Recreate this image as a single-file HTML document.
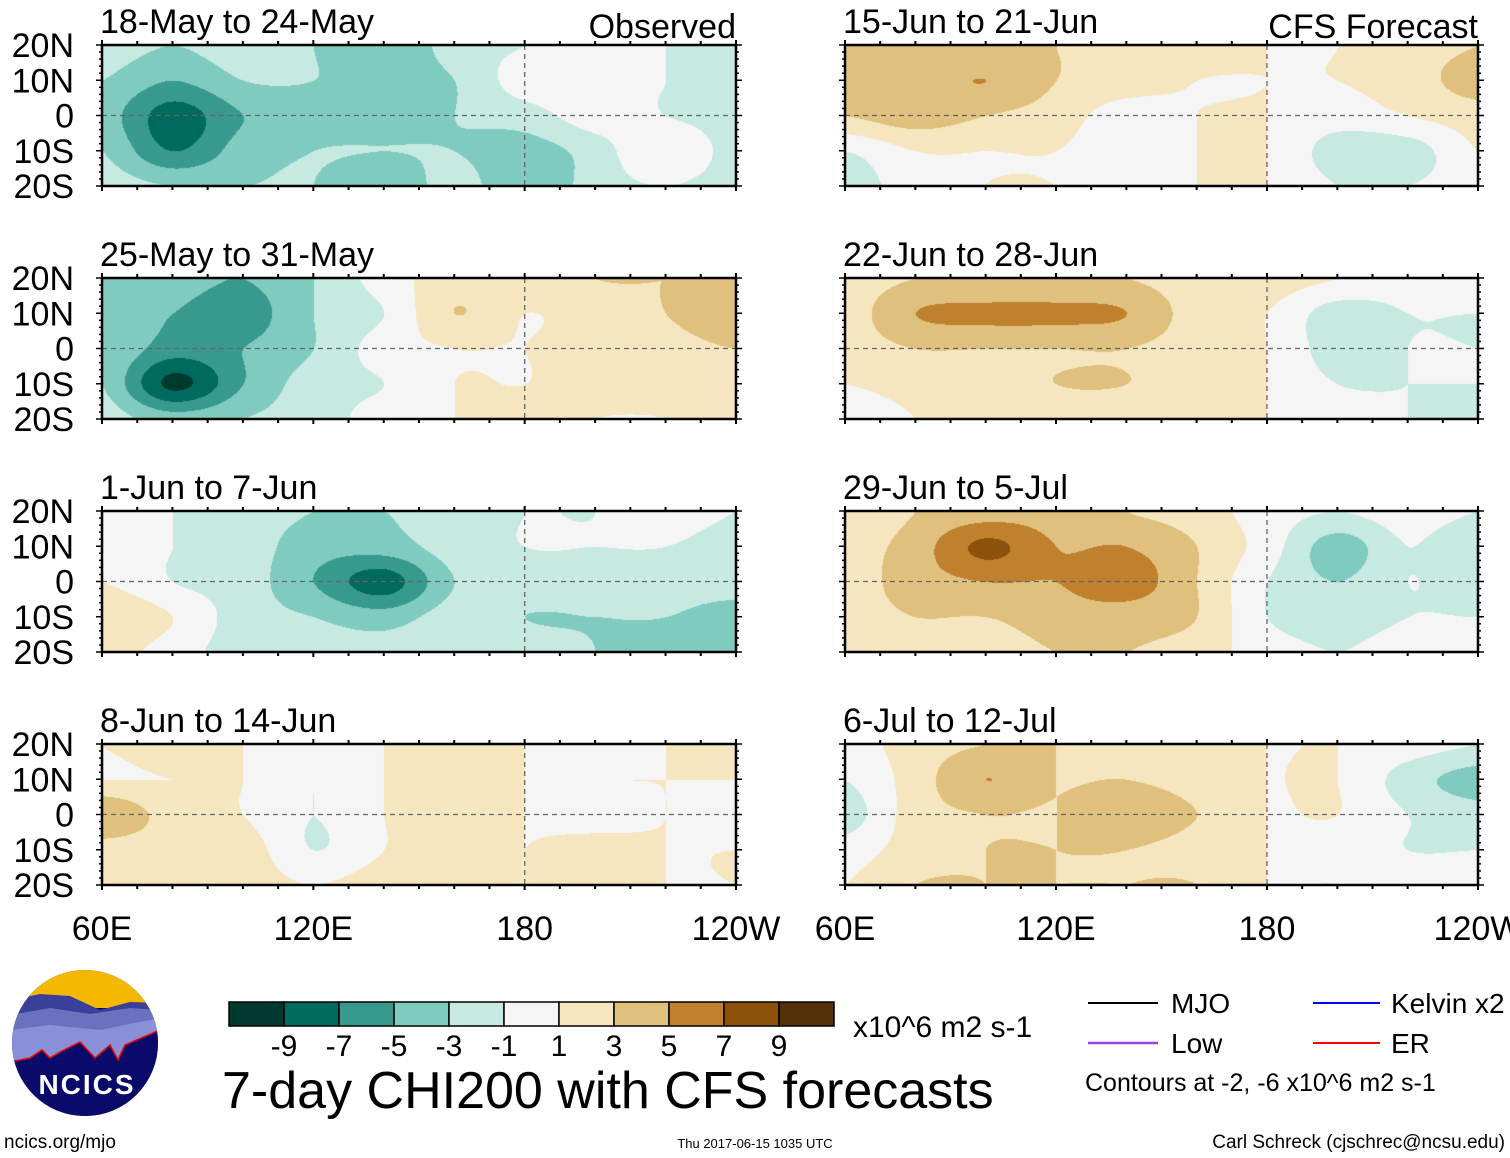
<!DOCTYPE html>
<html><head><meta charset="utf-8">
<style>
html,body{margin:0;padding:0;background:#fff;}
body{width:1510px;height:1158px;position:relative;overflow:hidden;font-family:"Liberation Sans",Arial,sans-serif;}
canvas{position:absolute;left:0;top:0;}
</style></head>
<body>
<canvas id="c" width="1510" height="1158"></canvas>
<svg id="s" width="1510" height="1158" style="position:absolute;left:0;top:0"></svg>
<script>
// ---- data ----
const lons = [60,80,100,120,140,160,180,200,220,240];
const lats = [20,10,0,-10,-20];
const panelTitles = ["18-May to 24-May","25-May to 31-May","1-Jun to 7-Jun","8-Jun to 14-Jun","15-Jun to 21-Jun","22-Jun to 28-Jun","29-Jun to 5-Jul","6-Jul to 12-Jul"];
const levels = [-9,-7,-5,-3,-1,1,3,5,7,9];
const levelColors = ["#00392e","#006a5e","#389a8f","#7fcbbf","#c6e9e1","#f5f5f5","#f5e6c0","#dfc07d","#bf812d","#8c510a","#543005"];
const xTickLabels = ["60E","120E","180","120W"];
const xTickLons = [60,120,180,240];
const yTickLabels = ["20N","10N","0","10S","20S"];
const yTickLats = [20,10,0,-10,-20];
const p1 = [[-2,-3,-2,-3,-5,-2,-1,0,-1,-2],[-3,-5,-3,-3,-4,-3,0,0,-1,-2],[-4,-8,-5,-4,-4,-3,-2,0,-1,-2],[-3,-7,-4,-3,-3,-3,-4,-2,1,-2],[-2,-3,-3,-3,-5,-2,-5,-2,-1,-2]];
const p2 = [[-3,-4,-5,-3,0,2,2,3,3,3],[-3,-5,-6,-3,-1,3,1,2,3,5],[-3,-6,-5,-3,0,1,1,2,2,3],[-3,-9.5,-5,-2,-1,1,1,2,2,1],[-2,-4,-3,-2,0,1,2,1,1,2]];
const p3 = [[0,-1,-2,-3,-3,-2,-1,-1,0,-1],[0,-1,-2,-4,-4,-2,-1,-1,-1,-2],[1,-1,-2,-5,-8,-3,-2,-2,-2,-2],[3,1,-2,-3,-4,-2,-3,-3,-3,-4],[2,0,-2,-2,-2,-1,-2,-3,-4,-4]];
const p4 = [[1,2,1,-1,1,2,1,0,1,1],[1,1,1,-1,1,2,1,1,1,1],[5,2,1,-1,1,2,1,0,1,0],[2,2,2,-1,1,2,1,2,1,1],[2,2,2,1,2,2,1,2,1,1]];
const p5 = [[3,3,3,3,2,2,1,1,2,3],[3,4,5,3,2,1,1,1,2,4],[3,4,3,2,0,1,1,0,1,2],[-1,1,1,1,0,1,1,-2,-2,1],[-2,0,1,1,1,1,1,-1,-1,0]];
const p6 = [[2,3,3,3,3,2,2,1,0,1],[2,5,5.5,5.5,5,2,1,-2,-1,-1],[2,3,3,3,3,2,1,-2,-1,-1],[1,2,2,3,3,2,1,-1,-1,-1],[-1,1,2,2,2,2,1,0,-1,-1]];
const p7 = [[1,3,4,4,3,2,0,-1,0,-1],[2,4,7.5,5,5,3,0,-4,-1,-3],[2,4,5,5,6,3,-1,-3,-1,-2],[2,3,3,4,4,3,-1,-2,-1,-1],[1,2,2,3,3,2,0,-1,0,0]];
const p8 = [[0,2,3,3,2,2,1,1,0,-1],[-1,2,5,3,3,2,1,1,-2,-4],[-2,2,3,3,5,3,1,1,-1,-2],[0,2,3,3,3,2,1,0,-1,-1],[1,3,3,3,3,3,1,1,0,0]];
const panelData = [p1,p2,p3,p4,p5,p6,p7,p8];

// ---- layout ----
const colX = [[102,736],[845,1478]];
const rowY = [45,278,511,744];
const PH = 141;
function panelBox(i){const col=i<4?0:1,row=i%4;return {x0:colX[col][0],x1:colX[col][1],y0:rowY[row],y1:rowY[row]+PH};}
function lonToX(b,lon){return b.x0+(lon-60)/180*(b.x1-b.x0);}
function latToY(b,lat){return b.y0+(20-lat)/40*(b.y1-b.y0);}
function hex(h){return [parseInt(h.slice(1,3),16),parseInt(h.slice(3,5),16),parseInt(h.slice(5,7),16)];}
const rgb = levelColors.map(hex);
function colorIdx(v){v=Math.round(v*1e5)/1e5;let k=0;while(k<levels.length&&v>levels[k])k++;return k;}
function cr(p0,p1,p2,p3,t){return 0.5*((2*p1)+(-p0+p2)*t+(2*p0-5*p1+4*p2-p3)*t*t+(-p0+3*p1-3*p2+p3)*t*t*t);}
function gv(g,j,i){j=Math.max(0,Math.min(lats.length-1,j));i=Math.max(0,Math.min(lons.length-1,i));return g[j][i];}
function sample(g,lon,lat){
  let fi=(lon-lons[0])/(lons[1]-lons[0]); let fj=(lats[0]-lat)/(lats[0]-lats[1]);
  fi=Math.max(0,Math.min(lons.length-1.0001,fi)); fj=Math.max(0,Math.min(lats.length-1.0001,fj));
  const i=Math.floor(fi),j=Math.floor(fj); const a=fi-i,b=fj-j;
  const r=[];
  for(let dj=-1;dj<=2;dj++){r.push(cr(gv(g,j+dj,i-1),gv(g,j+dj,i),gv(g,j+dj,i+1),gv(g,j+dj,i+2),a));}
  return cr(r[0],r[1],r[2],r[3],b);
}
const ctx=document.getElementById('c').getContext('2d');
const NS="http://www.w3.org/2000/svg";
const svg=document.getElementById('s');
function el(tag,attrs,parent){const e=document.createElementNS(NS,tag);for(const k in attrs)e.setAttribute(k,attrs[k]);(parent||svg).appendChild(e);return e;}
function txt(x,y,s,size,anchor,parent){const t=el('text',{x:x,y:y,'font-size':size,'text-anchor':anchor||'start','font-family':'Liberation Sans, Arial, sans-serif',fill:'#000'},parent);t.textContent=s;return t;}

panelData.forEach((g,i)=>{
  const b=panelBox(i);
  const w=b.x1-b.x0,h=b.y1-b.y0;
  const img=ctx.createImageData(w,h);
  for(let y=0;y<h;y++)for(let x=0;x<w;x++){
    const lon=60+x/w*180, lat=20-y/h*40;
    const c=rgb[colorIdx(sample(g,lon,lat))];
    const o=(y*w+x)*4; img.data[o]=c[0];img.data[o+1]=c[1];img.data[o+2]=c[2];img.data[o+3]=255;
  }
  ctx.putImageData(img,b.x0,b.y0);
  const grp=el('g',{});
  
  
  el('line',{x1:b.x0,x2:b.x1,y1:latToY(b,0),y2:latToY(b,0),stroke:'#666','stroke-width':1.3,'stroke-dasharray':'5,4'},grp);
  el('line',{x1:lonToX(b,180),x2:lonToX(b,180),y1:b.y0,y2:b.y1,stroke:'#666','stroke-width':1.3,'stroke-dasharray':'5,4'},grp);
  for(let lon=60;lon<=240;lon+=10){const x=lonToX(b,lon);const L=(lon%60===0)?5:4;
    el('line',{x1:x,x2:x,y1:b.y0,y2:b.y0-L,stroke:'#000','stroke-width':2},grp);
    el('line',{x1:x,x2:x,y1:b.y1,y2:b.y1+L,stroke:'#000','stroke-width':2},grp);}
  for(let lat=-20;lat<=20;lat+=2){const y=latToY(b,lat);const L=(lat%10===0)?6:3;
    el('line',{x1:b.x0,x2:b.x0-L,y1:y,y2:y,stroke:'#000','stroke-width':1.5},grp);
    el('line',{x1:b.x1,x2:b.x1+L,y1:y,y2:y,stroke:'#000','stroke-width':1.5},grp);}
  el('rect',{x:b.x0,y:b.y0,width:b.x1-b.x0,height:b.y1-b.y0,fill:'none',stroke:'#000','stroke-width':2.5},grp);
  const t=txt(b.x0-2,b.y0-12,panelTitles[i],34,'start',grp);
  
  
  if(i<4){yTickLats.forEach((lat,k)=>{const yl=txt(74,latToY(b,lat)+12,yTickLabels[k],34,'end',grp);
    
    });}
  if(i===3||i===7){xTickLons.forEach((lon,k)=>{const xl=txt(lonToX(b,lon),b.y1+55,xTickLabels[k],34,'middle',grp);
    
    });}
});
const ob=txt(736,38,"Observed",34,'end');


const cf=txt(1478,38,"CFS Forecast",34,'end');



const cb=el('g',{});


const cbX0=229,cbW=55,cbY=1002,cbH=24;
levelColors.forEach((c,k)=>{const r=el('rect',{x:cbX0+k*cbW,y:cbY,width:cbW,height:cbH,fill:c,stroke:'#000','stroke-width':1.5},cb);
  
  });
levels.forEach((v,k)=>{if(v%2!==0){const t=txt(cbX0+(k+1)*cbW,1056,String(v),30,'middle',cb);
  
  }});
</script>
<div style="position:absolute;left:853px;top:1011px;font-size:30px;">x10^6 m2 s-1</div>
<div style="position:absolute;left:222px;top:1061px;font-size:52px;">7-day CHI200 with CFS forecasts</div>
<svg width="1510" height="1158" style="position:absolute;left:0;top:0">
  <g font-family="Liberation Sans, Arial, sans-serif" font-size="28">
    <line x1="1088" x2="1158" y1="1003" y2="1003" stroke="#000" stroke-width="2"/>
    <text x="1171" y="1013">MJO</text>
    <line x1="1313" x2="1380" y1="1003" y2="1003" stroke="#0000ff" stroke-width="2"/>
    <text x="1391" y="1013">Kelvin x2</text>
    <line x1="1088" x2="1158" y1="1043" y2="1043" stroke="#a040e0" stroke-width="2.5"/>
    <text x="1171" y="1053">Low</text>
    <line x1="1313" x2="1380" y1="1043" y2="1043" stroke="#ff0000" stroke-width="2"/>
    <text x="1391" y="1053">ER</text>
    <text x="1085" y="1091" font-size="25">Contours at -2, -6 x10^6 m2 s-1</text>
  </g>
  <g>
    <clipPath id="lc"><circle cx="85" cy="1043" r="73"/></clipPath>
    <g clip-path="url(#lc)">
      <rect x="10" y="968" width="150" height="150" fill="#0a0a6a"/>
      <rect x="10" y="968" width="150" height="40" fill="#f5b800"/>
      <path d="M10 1000 L40 994 L70 996 L100 1010 L130 1002 L160 1003 L160 1060 L10 1060Z" fill="#3a3f9a"/>
      <path d="M10 1015 L50 1008 L90 1014 L130 1008 L160 1010 L160 1060 L10 1060Z" fill="#6a72c0"/>
      <path d="M10 1030 L50 1025 L100 1030 L160 1018 L160 1060 L10 1060Z" fill="#8a90d8"/>
      <path d="M10 1062 L30 1058 L42 1050 L50 1058 L60 1052 L80 1042 L95 1058 L110 1045 L118 1060 L125 1045 L160 1030 L160 1118 L10 1118Z" fill="#0a0a6a" stroke="#e00" stroke-width="1.5"/>
    </g>
    <text x="87" y="1094" text-anchor="middle" font-family="Liberation Sans, Arial, sans-serif" font-weight="bold" font-size="28" fill="#fff" letter-spacing="2">NCICS</text>
  </g>
  <g font-family="Liberation Sans, Arial, sans-serif">
    <text x="4" y="1148" font-size="19">ncics.org/mjo</text>
    <text x="755" y="1148" font-size="13" text-anchor="middle">Thu 2017-06-15 1035 UTC</text>
    <text x="1505" y="1148" font-size="19" text-anchor="end">Carl Schreck (cjschrec@ncsu.edu)</text>
  </g>
</svg>
</body></html>
